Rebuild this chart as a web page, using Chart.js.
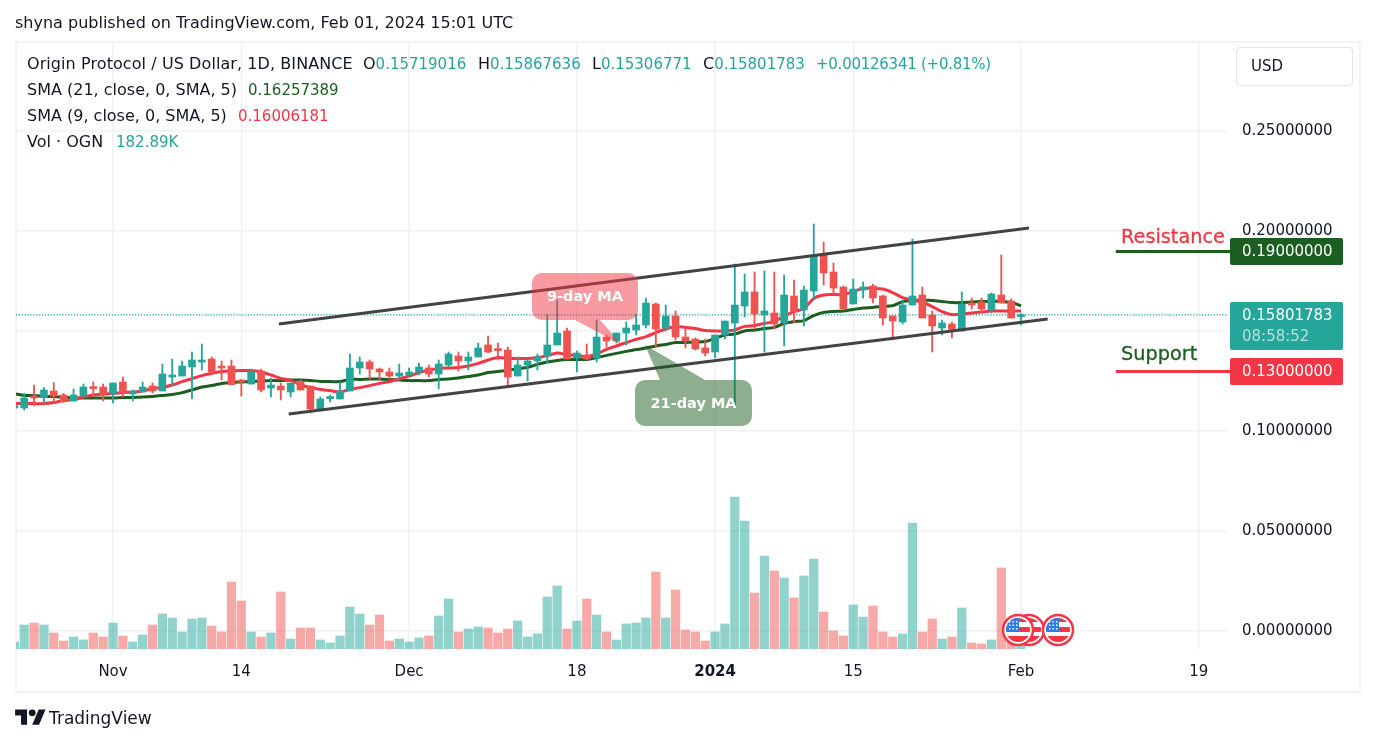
<!DOCTYPE html>
<html>
<head>
<meta charset="utf-8">
<title>OGN/USD</title>
<script src="https://cdn.jsdelivr.net/npm/chart.js@4/dist/chart.umd.min.js"></script>
<style>
  html, body { margin: 0; padding: 0; background: #fff; }
  body { width: 1374px; height: 744px; position: relative; overflow: hidden; font-family: "DejaVu Sans", sans-serif; color: #131722; }
  #grafico { position: absolute; left: 0; top: 0; }
  #marco { position: absolute; left: 15px; top: 41px; width: 1342px; height: 648px; border: 2px solid #f0f3fa; }
  .txt { position: absolute; white-space: nowrap; font-size: 16px; line-height: 20px; }
  .num { font-size: 15px; }
  .verde { color: #26a69a; }
  #usd { position: absolute; left: 1236px; top: 47px; width: 115px; height: 37px; border: 1px solid #e0e3eb; border-radius: 4px; box-sizing: content-box; line-height: 37px; text-indent: 14px; font-size: 15px; }
</style>
</head>
<body>
<div id="marco"></div>
<canvas id="grafico" width="1374" height="744"></canvas>

<div class="txt" style="left:15px;top:13px">shyna published on TradingView.com, Feb 01, 2024 15:01 UTC</div>
<div class="txt" style="left:27px;top:54px;letter-spacing:0.08px">Origin Protocol / US Dollar, 1D, BINANCE</div>
<div class="txt" style="left:363px;top:54px">O<span class="verde num">0.15719016</span></div>
<div class="txt" style="left:478px;top:54px">H<span class="verde num">0.15867636</span></div>
<div class="txt" style="left:592px;top:54px">L<span class="verde num">0.15306771</span></div>
<div class="txt" style="left:703px;top:54px">C<span class="verde num">0.15801783</span></div>
<div class="txt verde num" style="left:816px;top:54px;letter-spacing:-0.25px">+0.00126341 (+0.81%)</div>
<div class="txt" style="left:27px;top:80px">SMA (21, close, 0, SMA, 5)</div>
<div class="txt num" style="left:248px;top:80px;color:#1b5e20">0.16257389</div>
<div class="txt" style="left:27px;top:106px">SMA (9, close, 0, SMA, 5)</div>
<div class="txt num" style="left:238px;top:106px;color:#f23645">0.16006181</div>
<div class="txt" style="left:27px;top:132px">Vol · OGN</div>
<div class="txt verde num" style="left:116px;top:132px">182.89K</div>
<div id="usd">USD</div>
<div class="txt" style="left:1121px;top:225px;font-size:19.3px;line-height:24px;color:#f23645;-webkit-text-stroke:0.3px #f23645">Resistance</div>
<div class="txt" style="left:1121px;top:342px;font-size:19.3px;line-height:24px;color:#1b5e20;-webkit-text-stroke:0.3px #1b5e20">Support</div>

<svg style="position:absolute;left:15px;top:706px" width="31" height="24" viewBox="0 0 36 28"><path fill="#131722" d="M14 22H7V11H0V4h14v18zM28 22h-8l7.5-18h8L28 22z"/><circle fill="#131722" cx="20" cy="8" r="4"/></svg>
<div class="txt" style="left:49px;top:708px;font-size:17px">TradingView</div>

<script>
// dias contados desde el 1 de noviembre, la primera vela es del 22 de octubre
const primerDia = -10;

const opens = [
  0.1115, 0.1115, 0.1172, 0.1168, 0.1200, 0.1180, 0.1150, 0.1175, 0.1215, 0.1220,
  0.1185, 0.1245, 0.1185, 0.1195, 0.1225, 0.1200, 0.1270, 0.1275, 0.1320, 0.1345,
  0.1360, 0.1320, 0.1325, 0.1247, 0.1235, 0.1300, 0.1215, 0.1225, 0.1195, 0.1245,
  0.1225, 0.1105, 0.1162, 0.1160, 0.1200, 0.1315, 0.1345, 0.1310, 0.1295, 0.1275,
  0.1282, 0.1295, 0.1315, 0.1285, 0.1330, 0.1375, 0.1350, 0.1370, 0.1430, 0.1410,
  0.1405, 0.1275, 0.1330, 0.1350, 0.1375, 0.1430, 0.1500, 0.1365, 0.1380, 0.1365,
  0.1470, 0.1450, 0.1490, 0.1505, 0.1530, 0.1635, 0.1515, 0.1575, 0.1470, 0.1460,
  0.1415, 0.1395, 0.1480, 0.1540, 0.1625, 0.1695, 0.1580, 0.1590, 0.1540, 0.1675,
  0.1605, 0.1700, 0.1880, 0.1795, 0.1720, 0.1635, 0.1705, 0.1725, 0.1675, 0.1575,
  0.1545, 0.1630, 0.1680, 0.1580, 0.1515, 0.1535, 0.1500, 0.1635, 0.1645, 0.1605,
  0.1680, 0.1650, 0.15719016
];
const highs = [
  0.1130, 0.1188, 0.1230, 0.1217, 0.1242, 0.1188, 0.1210, 0.1235, 0.1245, 0.1235,
  0.1240, 0.1270, 0.1205, 0.1245, 0.1240, 0.1335, 0.1360, 0.1350, 0.1395, 0.1435,
  0.1370, 0.1350, 0.1355, 0.1258, 0.1310, 0.1310, 0.1265, 0.1240, 0.1240, 0.1255,
  0.1225, 0.1170, 0.1180, 0.1245, 0.1385, 0.1370, 0.1355, 0.1315, 0.1315, 0.1335,
  0.1315, 0.1340, 0.1330, 0.1355, 0.1395, 0.1395, 0.1395, 0.1440, 0.1475, 0.1440,
  0.1420, 0.1370, 0.1360, 0.1385, 0.1585, 0.1655, 0.1515, 0.1400, 0.1435, 0.1555,
  0.1480, 0.1490, 0.1545, 0.1585, 0.1665, 0.1640, 0.1630, 0.1600, 0.1515, 0.1465,
  0.1460, 0.1480, 0.1550, 0.1835, 0.1785, 0.1795, 0.1800, 0.1795, 0.1780, 0.1755,
  0.1725, 0.2035, 0.1945, 0.1840, 0.1725, 0.1760, 0.1745, 0.1735, 0.1680, 0.1575,
  0.1655, 0.1960, 0.1720, 0.1600, 0.1555, 0.1545, 0.1695, 0.1665, 0.1665, 0.1690,
  0.1880, 0.1660, 0.15867636
];
const lows = [
  0.1110, 0.1105, 0.1125, 0.1135, 0.1142, 0.1142, 0.1150, 0.1172, 0.1175, 0.1150,
  0.1140, 0.1172, 0.1150, 0.1195, 0.1190, 0.1200, 0.1225, 0.1275, 0.1160, 0.1305,
  0.1285, 0.1255, 0.1232, 0.1175, 0.1235, 0.1195, 0.1170, 0.1155, 0.1170, 0.1205,
  0.1090, 0.1105, 0.1145, 0.1160, 0.1200, 0.1285, 0.1260, 0.1255, 0.1260, 0.1255,
  0.1275, 0.1280, 0.1270, 0.1210, 0.1320, 0.1300, 0.1305, 0.1370, 0.1390, 0.1355,
  0.1230, 0.1275, 0.1250, 0.1305, 0.1340, 0.1430, 0.1360, 0.1295, 0.1355, 0.1345,
  0.1420, 0.1440, 0.1430, 0.1480, 0.1515, 0.1420, 0.1500, 0.1455, 0.1415, 0.1405,
  0.1375, 0.1365, 0.1460, 0.1120, 0.1570, 0.1510, 0.1395, 0.1510, 0.1425, 0.1540,
  0.1525, 0.1655, 0.1730, 0.1690, 0.1610, 0.1635, 0.1665, 0.1640, 0.1530, 0.1455,
  0.1535, 0.1630, 0.1565, 0.1395, 0.1480, 0.1465, 0.1500, 0.1610, 0.1595, 0.1590,
  0.1640, 0.1565, 0.15306771
];
const closes = [
  0.1127, 0.1165, 0.1165, 0.1205, 0.1175, 0.1147, 0.1180, 0.1220, 0.1212, 0.1180,
  0.1240, 0.1188, 0.1200, 0.1220, 0.1200, 0.1285, 0.1280, 0.1325, 0.1355, 0.1355,
  0.1295, 0.1315, 0.1232, 0.1245, 0.1295, 0.1205, 0.1230, 0.1205, 0.1240, 0.1205,
  0.1110, 0.1160, 0.1165, 0.1200, 0.1315, 0.1345, 0.1310, 0.1295, 0.1275, 0.1290,
  0.1295, 0.1320, 0.1285, 0.1335, 0.1385, 0.1350, 0.1370, 0.1415, 0.1395, 0.1402,
  0.1270, 0.1330, 0.1350, 0.1370, 0.1430, 0.1490, 0.1360, 0.1390, 0.1360, 0.1470,
  0.1450, 0.1490, 0.1515, 0.1530, 0.1640, 0.1510, 0.1575, 0.1470, 0.1450, 0.1410,
  0.1390, 0.1480, 0.1550, 0.1630, 0.1695, 0.1585, 0.1600, 0.1535, 0.1680, 0.1595,
  0.1705, 0.1875, 0.1790, 0.1715, 0.1610, 0.1710, 0.1720, 0.1665, 0.1565, 0.1550,
  0.1630, 0.1675, 0.1565, 0.1525, 0.1540, 0.1508, 0.1635, 0.1630, 0.1610, 0.1685,
  0.1640, 0.1565, 0.15801783
];
// volumen en miles de OGN
const volumes = [
  214, 732, 793, 732, 488, 244, 366, 275, 488, 366,
  793, 397, 214, 427, 732, 1068, 946, 519, 915, 946,
  702, 519, 2044, 1464, 519, 366, 488, 1739, 305, 641,
  641, 275, 183, 397, 1281, 1068, 732, 1037, 244, 305,
  214, 336, 397, 1007, 1525, 519, 610, 671, 641, 488,
  610, 854, 366, 458, 1586, 1922, 610, 854, 1525, 1037,
  519, 275, 763, 793, 946, 2349, 946, 1800, 580, 519,
  244, 519, 763, 4636, 3904, 1708, 2837, 2379, 2166, 1556,
  2227, 2745, 1129, 549, 397, 1342, 976, 1312, 519, 366,
  458, 3843, 519, 915, 305, 366, 1251, 183, 153, 275,
  2471, 366, 182.89
];
const sma21 = [
  0.1187, 0.1178, 0.1177, 0.1173, 0.1172, 0.1168, 0.1165, 0.1165, 0.1165, 0.1165,
  0.1165, 0.1167, 0.1168, 0.1170, 0.1173, 0.1177, 0.1183, 0.1192, 0.1205, 0.1220,
  0.1227, 0.1238, 0.1243, 0.1245, 0.1247, 0.1250, 0.1252, 0.1252, 0.1255, 0.1255,
  0.1253, 0.1248, 0.1247, 0.1247, 0.1258, 0.1258, 0.1260, 0.1260, 0.1258, 0.1255,
  0.1252, 0.1252, 0.1252, 0.1258, 0.1260, 0.1265, 0.1272, 0.1280, 0.1292, 0.1298,
  0.1303, 0.1312, 0.1318, 0.1333, 0.1345, 0.1353, 0.1357, 0.1357, 0.1358, 0.1367,
  0.1378, 0.1388, 0.1398, 0.1407, 0.1415, 0.1425, 0.1433, 0.1442, 0.1443, 0.1445,
  0.1447, 0.1463, 0.1480, 0.1485, 0.1500, 0.1505, 0.1512, 0.1518, 0.1538, 0.1547,
  0.1552, 0.1577, 0.1593, 0.1598, 0.1600, 0.1608, 0.1615, 0.1618, 0.1623, 0.1627,
  0.1647, 0.1653, 0.1653, 0.1653, 0.1648, 0.1642, 0.1642, 0.1645, 0.1647, 0.1648,
  0.1648, 0.1643, 0.16257389
];
const sma9 = [
  0.1137, 0.1137, 0.1137, 0.1137, 0.1142, 0.1152, 0.1158, 0.1170, 0.1180, 0.1185,
  0.1187, 0.1192, 0.1195, 0.1200, 0.1212, 0.1218, 0.1230, 0.1247, 0.1262, 0.1277,
  0.1288, 0.1298, 0.1300, 0.1302, 0.1302, 0.1295, 0.1280, 0.1263, 0.1253, 0.1230,
  0.1218, 0.1208, 0.1202, 0.1195, 0.1208, 0.1217, 0.1227, 0.1238, 0.1247, 0.1260,
  0.1275, 0.1292, 0.1305, 0.1313, 0.1315, 0.1318, 0.1325, 0.1338, 0.1355, 0.1367,
  0.1363, 0.1363, 0.1362, 0.1367, 0.1377, 0.1390, 0.1382, 0.1378, 0.1372, 0.1385,
  0.1408, 0.1425, 0.1442, 0.1458, 0.1472, 0.1492, 0.1510, 0.1522, 0.1518, 0.1512,
  0.1503, 0.1500, 0.1500, 0.1505, 0.1523, 0.1527, 0.1538, 0.1547, 0.1575, 0.1597,
  0.1613, 0.1663, 0.1680, 0.1682, 0.1683, 0.1697, 0.1713, 0.1713, 0.1710, 0.1692,
  0.1667, 0.1655, 0.1645, 0.1622, 0.1597, 0.1582, 0.1585, 0.1590, 0.1595, 0.1600,
  0.1600, 0.1600, 0.16006181
];

const precioTicks = [0, 0.05, 0.1, 0.15, 0.2, 0.25];
const fechaTicks = [0, 13, 30, 47, 61, 75, 92, 110];
const fechaLabels = ["Nov", "14", "Dec", "18", "2024", "15", "Feb", "19"];

// lineas dibujadas a mano en el original: [dia, precio]
const canalArriba = [[16.8, 0.1535], [92.8, 0.2015]];
const canalAbajo = [[17.8, 0.1085], [94.7, 0.1560]];
const resistencia = 0.19;
const soporte = 0.13;
const ultimoPrecio = 0.15801783;

const VERDE = "#26a69a";
const ROJO = "#ef5350";
const ROJO_SMA = "#f23645";
const VERDE_SMA = "#1b5e20";
const GRILLA = "#eff1f5";
const FUENTE = '"DejaVu Sans", sans-serif';
const xMin = -9.83, xMax = 112.87;

const dias = opens.map((_, i) => primerDia + i);
const sube = opens.map((o, i) => closes[i] >= o);
const puntos = (arr) => arr.map((p) => ({ x: p[0], y: p[1] }));
const linea = (valores) => valores.map((v, i) => ({ x: dias[i], y: v }));

function etiqueta(ctx, y, alto, fondo, texto) {
  ctx.fillStyle = fondo;
  ctx.beginPath();
  ctx.roundRect(1230, y - alto / 2, 113, alto, 2);
  ctx.fill();
  ctx.fillStyle = "#fff";
  ctx.font = "15px " + FUENTE;
  ctx.textAlign = "left";
  ctx.textBaseline = "middle";
  ctx.fillText(texto, 1242, y + 1);
}

function globo(ctx, caja, pico, fondo, texto) {
  ctx.fillStyle = fondo;
  ctx.beginPath();
  ctx.roundRect(caja[0], caja[1], caja[2], caja[3], 10);
  ctx.moveTo(pico[0][0], pico[0][1]);
  ctx.lineTo(pico[1][0], pico[1][1]);
  ctx.lineTo(pico[2][0], pico[2][1]);
  ctx.closePath();
  ctx.fill();
  ctx.fillStyle = "#fff";
  ctx.font = "bold 14.5px " + FUENTE;
  ctx.textAlign = "center";
  ctx.textBaseline = "middle";
  ctx.fillText(texto, caja[0] + caja[2] / 2, caja[1] + caja[3] / 2 + 1);
}

function bandera(ctx, x, y) {
  ctx.save();
  ctx.beginPath();
  ctx.arc(x, y, 15, 0, Math.PI * 2);
  ctx.fillStyle = "#fff";
  ctx.fill();
  ctx.lineWidth = 2.5;
  ctx.strokeStyle = ROJO_SMA;
  ctx.stroke();
  ctx.beginPath();
  ctx.arc(x, y, 12, 0, Math.PI * 2);
  ctx.clip();
  ctx.fillStyle = ROJO_SMA;
  ctx.fillRect(x - 12, y - 12, 24, 4);
  ctx.fillRect(x - 12, y - 3, 24, 5);
  ctx.fillRect(x - 12, y + 6, 24, 6);
  ctx.fillStyle = "#2a7de1";
  ctx.fillRect(x - 12, y - 12, 13, 13);
  ctx.fillStyle = "#fff";
  for (let a = 0; a < 3; a++) {
    for (let b = 0; b < 3; b++) {
      ctx.fillRect(x - 9 + a * 3.5, y - 9 + b * 3.5, 1.5, 1.5);
    }
  }
  ctx.restore();
}

// etiquetas del eje, globos y banderas van encima de todo
const extras = {
  id: "extras",
  afterDraw(chart) {
    const ctx = chart.ctx;
    const y = chart.scales.y;
    const xs = chart.scales.x;
    const px = y.getPixelForValue(ultimoPrecio);

    ctx.save();
    ctx.fillStyle = VERDE_SMA;
    ctx.fillRect(xs.getPixelForValue(101.6), y.getPixelForValue(resistencia) - 1, 1230 - xs.getPixelForValue(101.6), 3);
    ctx.fillStyle = ROJO_SMA;
    ctx.fillRect(xs.getPixelForValue(101.6), y.getPixelForValue(soporte) - 1, 1230 - xs.getPixelForValue(101.6), 3);

    etiqueta(ctx, y.getPixelForValue(resistencia) + 0.5, 27, VERDE_SMA, resistencia.toFixed(8));
    etiqueta(ctx, y.getPixelForValue(soporte) + 0.5, 27, ROJO_SMA, soporte.toFixed(8));

    ctx.fillStyle = VERDE;
    ctx.beginPath();
    ctx.roundRect(1230, 302, 113, 48, 2);
    ctx.fill();
    ctx.fillStyle = "#fff";
    ctx.font = "15px " + FUENTE;
    ctx.textAlign = "left";
    ctx.textBaseline = "middle";
    ctx.fillText(ultimoPrecio.toFixed(8), 1242, px + 1);
    ctx.fillStyle = "rgba(255,255,255,0.65)";
    ctx.fillText("08:58:52", 1242, px + 22);

    globo(ctx, [532, 273, 106, 47], [[575, 320], [600, 320], [622, 345]], "rgba(242,54,69,0.5)", "9-day MA");
    globo(ctx, [635, 380, 117, 46], [[645, 345], [660, 380], [705, 380]], "rgba(27,94,32,0.5)", "21-day MA");

    bandera(ctx, 1029, 630);
    bandera(ctx, 1018, 630);
    bandera(ctx, 1058, 630);
    ctx.restore();
  },
};

new Chart(document.getElementById("grafico"), {
  type: "bar",
  data: {
    datasets: [
      {
        type: "line",
        data: puntos(canalArriba),
        borderColor: "#434343",
        borderWidth: 3,
        pointRadius: 0,
        order: 1,
      },
      {
        type: "line",
        data: puntos(canalAbajo),
        borderColor: "#434343",
        borderWidth: 3,
        pointRadius: 0,
        order: 1,
      },
      {
        data: dias.map((d, i) => ({ x: d, y: [opens[i], closes[i]] })),
        backgroundColor: sube.map((s) => (s ? VERDE : ROJO)),
        barThickness: 7,
        minBarLength: 2,
        grouped: false,
        order: 2,
      },
      {
        data: dias.map((d, i) => ({ x: d, y: [lows[i], highs[i]] })),
        backgroundColor: sube.map((s) => (s ? VERDE : ROJO)),
        barThickness: 1.2,
        grouped: false,
        order: 3,
      },
      {
        type: "line",
        data: linea(sma9),
        borderColor: ROJO_SMA,
        borderWidth: 3,
        pointRadius: 0,
        tension: 0.3,
        order: 4,
      },
      {
        type: "line",
        data: linea(sma21),
        borderColor: VERDE_SMA,
        borderWidth: 3,
        pointRadius: 0,
        tension: 0.3,
        order: 5,
      },
      {
        type: "line",
        data: [{ x: xMin, y: ultimoPrecio }, { x: xMax, y: ultimoPrecio }],
        borderColor: VERDE,
        borderWidth: 1.3,
        borderDash: [1.3, 1.6],
        pointRadius: 0,
        order: 6,
      },
      {
        data: dias.map((d, i) => ({ x: d, y: volumes[i] })),
        backgroundColor: sube.map((s) => (s ? "rgba(38,166,154,0.5)" : "rgba(239,83,80,0.5)")),
        barThickness: 8.6,
        grouped: false,
        yAxisID: "vol",
        order: 7,
      },
    ],
  },
  options: {
    responsive: false,
    animation: false,
    events: [],
    layout: { padding: { left: 16, top: 42, right: 0, bottom: 55 } },
    plugins: { legend: { display: false }, tooltip: { enabled: false } },
    scales: {
      x: {
        type: "linear",
        offset: false,
        min: xMin,
        max: xMax,
        afterBuildTicks: (s) => { s.ticks = fechaTicks.map((v) => ({ value: v })); },
        afterFit: (s) => { s.height = 40; },
        grid: { color: GRILLA, drawTicks: false, lineWidth: 1.4, offset: false },
        border: { display: false },
        ticks: {
          autoSkip: false,
          maxRotation: 0,
          padding: 14,
          color: "#131722",
          font: (c) => ({ family: FUENTE, size: 15, weight: c.tick && c.tick.value === 61 ? "bold" : "normal" }),
          callback: (v) => fechaLabels[fechaTicks.indexOf(v)],
        },
      },
      y: {
        position: "right",
        min: -0.009,
        max: 0.2945,
        afterBuildTicks: (s) => { s.ticks = precioTicks.map((v) => ({ value: v })); },
        afterFit: (s) => { s.width = 147; },
        grid: { color: GRILLA, drawTicks: false, lineWidth: 1.4 },
        border: { display: false },
        ticks: {
          padding: 15,
          color: "#131722",
          crossAlign: "near",
          font: { family: FUENTE, size: 15 },
          callback: (v) => v.toFixed(8),
        },
      },
      vol: {
        display: false,
        min: 0,
        max: 18514,
      },
    },
  },
  plugins: [extras],
});
</script>
</body>
</html>
